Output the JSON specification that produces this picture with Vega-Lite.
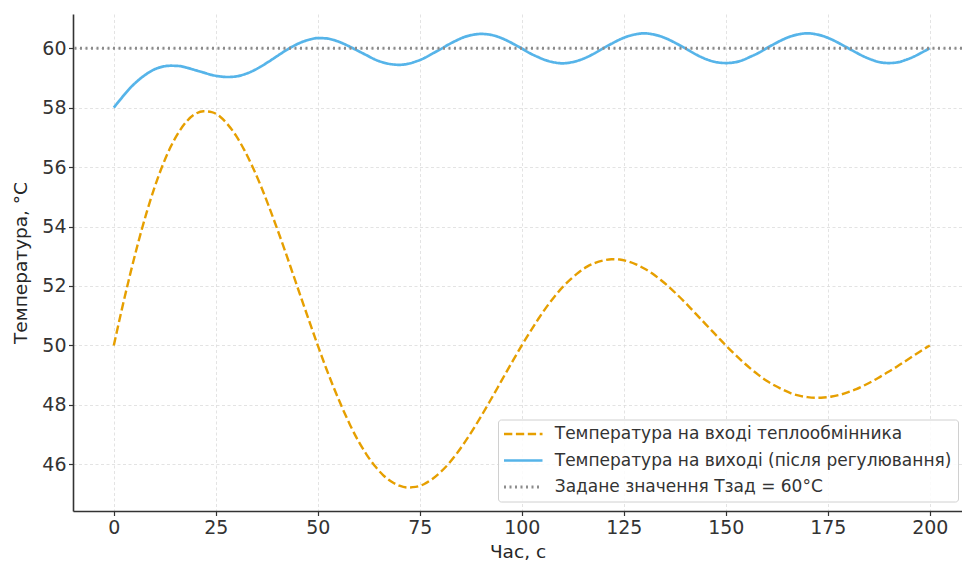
{
  "$schema": "https://vega.github.io/schema/vega-lite/v6.json",
  "autosize": {"type": "none"},
  "padding": {"left": 73, "top": 14, "right": 0, "bottom": 52},
  "width": 889,
  "height": 497,
  "background": "white",
  "config": {
    "font": "DejaVu Sans",
    "view": {"stroke": null},
    "axis": {
      "domainColor": "#333333",
      "domainWidth": 1.6,
      "tickColor": "#333333",
      "tickWidth": 1.2,
      "tickSize": 4.5,
      "labelFont": "DejaVu Sans",
      "labelFontSize": 19,
      "labelColor": "#333333",
      "titleFont": "DejaVu Sans",
      "titleFontSize": 18.5,
      "titleFontWeight": "normal",
      "titleColor": "#262626",
      "grid": true,
      "gridColor": "#dcdcdc",
      "gridWidth": 0.8,
      "gridDash": [3, 2.5]
    }
  },
  "data": {
    "values": [
      {"t":0,"a":50,"b":58},{"t":2,"a":51.23,"b":58.34},{"t":4,"a":52.39,"b":58.66},{"t":6,"a":53.47,"b":58.92},{"t":8,"a":54.45,"b":59.13},
      {"t":10,"a":55.32,"b":59.29},{"t":12,"a":56.07,"b":59.38},{"t":14,"a":56.70,"b":59.41},{"t":16,"a":57.19,"b":59.40},{"t":18,"a":57.56,"b":59.34},
      {"t":20,"a":57.79,"b":59.26},{"t":22,"a":57.88,"b":59.18},{"t":24,"a":57.85,"b":59.10},{"t":26,"a":57.70,"b":59.05},{"t":28,"a":57.42,"b":59.03},
      {"t":30,"a":57.05,"b":59.05},{"t":32,"a":56.57,"b":59.12},{"t":34,"a":56.01,"b":59.23},{"t":36,"a":55.38,"b":59.38},{"t":38,"a":54.68,"b":59.55},
      {"t":40,"a":53.94,"b":59.73},{"t":42,"a":53.17,"b":59.91},{"t":44,"a":52.37,"b":60.07},{"t":46,"a":51.57,"b":60.20},{"t":48,"a":50.78,"b":60.29},
      {"t":50,"a":50.00,"b":60.34},{"t":52,"a":49.25,"b":60.33},{"t":54,"a":48.55,"b":60.27},{"t":56,"a":47.90,"b":60.17},{"t":58,"a":47.30,"b":60.04},
      {"t":60,"a":46.77,"b":59.90},{"t":62,"a":46.32,"b":59.76},{"t":64,"a":45.94,"b":59.62},{"t":66,"a":45.64,"b":59.52},{"t":68,"a":45.42,"b":59.46},
      {"t":70,"a":45.28,"b":59.44},{"t":72,"a":45.22,"b":59.47},{"t":74,"a":45.24,"b":59.55},{"t":76,"a":45.33,"b":59.66},{"t":78,"a":45.50,"b":59.81},
      {"t":80,"a":45.73,"b":59.96},{"t":82,"a":46.01,"b":60.12},{"t":84,"a":46.35,"b":60.26},{"t":86,"a":46.74,"b":60.38},{"t":88,"a":47.16,"b":60.45},
      {"t":90,"a":47.61,"b":60.48},{"t":92,"a":48.08,"b":60.46},{"t":94,"a":48.56,"b":60.39},{"t":96,"a":49.05,"b":60.28},{"t":98,"a":49.53,"b":60.14},
      {"t":100,"a":50.00,"b":59.99},{"t":102,"a":50.45,"b":59.83},{"t":104,"a":50.88,"b":59.70},{"t":106,"a":51.28,"b":59.59},{"t":108,"a":51.64,"b":59.52},
      {"t":110,"a":51.96,"b":59.49},{"t":112,"a":52.23,"b":59.52},{"t":114,"a":52.46,"b":59.59},{"t":116,"a":52.65,"b":59.70},{"t":118,"a":52.78,"b":59.84},
      {"t":120,"a":52.86,"b":60.00},{"t":122,"a":52.90,"b":60.15},{"t":124,"a":52.89,"b":60.29},{"t":126,"a":52.83,"b":60.40},{"t":128,"a":52.73,"b":60.47},
      {"t":130,"a":52.59,"b":60.50},{"t":132,"a":52.42,"b":60.47},{"t":134,"a":52.21,"b":60.40},{"t":136,"a":51.98,"b":60.29},{"t":138,"a":51.72,"b":60.15},
      {"t":140,"a":51.45,"b":60.00},{"t":142,"a":51.16,"b":59.84},{"t":144,"a":50.87,"b":59.70},{"t":146,"a":50.58,"b":59.59},{"t":148,"a":50.29,"b":59.52},
      {"t":150,"a":50.00,"b":59.50},{"t":152,"a":49.73,"b":59.52},{"t":154,"a":49.47,"b":59.59},{"t":156,"a":49.23,"b":59.71},{"t":158,"a":49.01,"b":59.84},
      {"t":160,"a":48.81,"b":60.00},{"t":162,"a":48.65,"b":60.15},{"t":164,"a":48.51,"b":60.29},{"t":166,"a":48.39,"b":60.40},{"t":168,"a":48.31,"b":60.47},
      {"t":170,"a":48.26,"b":60.50},{"t":172,"a":48.24,"b":60.47},{"t":174,"a":48.25,"b":60.40},{"t":176,"a":48.28,"b":60.29},{"t":178,"a":48.34,"b":60.15},
      {"t":180,"a":48.43,"b":60.00},{"t":182,"a":48.53,"b":59.85},{"t":184,"a":48.66,"b":59.71},{"t":186,"a":48.80,"b":59.60},{"t":188,"a":48.96,"b":59.52},
      {"t":190,"a":49.12,"b":59.50},{"t":192,"a":49.29,"b":59.52},{"t":194,"a":49.47,"b":59.60},{"t":196,"a":49.65,"b":59.71},{"t":198,"a":49.83,"b":59.85},
      {"t":200,"a":50.00,"b":60.00}
    ]
  },
  "layer": [
    {
      "transform": [{"fold": ["a", "b"], "as": ["key", "value"]}],
      "mark": {"type": "line", "interpolate": "monotone", "clip": true},
      "encoding": {
        "x": {
          "field": "t", "type": "quantitative",
          "scale": {"domain": [-10, 207.9], "nice": false, "zero": false},
          "axis": {"values": [0, 25, 50, 75, 100, 125, 150, 175, 200], "format": "d", "title": "Час, с", "labelPadding": 3, "titlePadding": 5}
        },
        "y": {
          "field": "value", "type": "quantitative",
          "scale": {"domain": [44.43, 61.15], "nice": false, "zero": false},
          "axis": {"values": [46, 48, 50, 52, 54, 56, 58, 60], "format": "d", "title": "Температура, °С", "labelPadding": 2.5, "titlePadding": 11}
        },
        "color": {
          "field": "key", "type": "nominal",
          "scale": {"domain": ["a", "b", "s"], "range": ["#E69F00", "#56B4E9", "#8c8c8c"]},
          "legend": {
            "title": null,
            "orient": "none",
            "direction": "vertical",
            "legendX": 425,
            "legendY": 405.5,
            "symbolType": "M-3.2083,0H3.2083",
            "symbolSize": 144,
            "symbolOffset": 10.75,
            "labelOffset": 23,
            "labelFontSize": 17,
            "labelFont": "DejaVu Sans",
            "labelColor": "#333333",
            "labelLimit": 700,
            "rowPadding": 8.5,
            "padding": 6,
            "strokeColor": "#d0d0d0",
            "fillColor": "rgba(255,255,255,0.85)",
            "cornerRadius": 3,
            "labelExpr": "datum.label == 'a' ? 'Температура на вході теплообмінника' : datum.label == 'b' ? 'Температура на виході (після регулювання)' : 'Задане значення Тзад = 60°C'"
          }
        },
        "strokeDash": {
          "field": "key", "type": "nominal",
          "scale": {"domain": ["a", "b", "s"], "range": [[8.3, 3.6], [1, 0], [2, 3.5]]}
        },
        "strokeWidth": {
          "field": "key", "type": "nominal",
          "scale": {"domain": ["a", "b", "s"], "range": [2.4, 3, 1.8]}
        }
      }
    },
    {
      "data": {"values": [{"key": "s", "value": 60}]},
      "mark": {"type": "rule"},
      "encoding": {
        "y": {"field": "value", "type": "quantitative"},
        "color": {"field": "key", "type": "nominal"},
        "strokeDash": {"field": "key", "type": "nominal"},
        "strokeWidth": {"field": "key", "type": "nominal"}
      }
    }
  ]
}
